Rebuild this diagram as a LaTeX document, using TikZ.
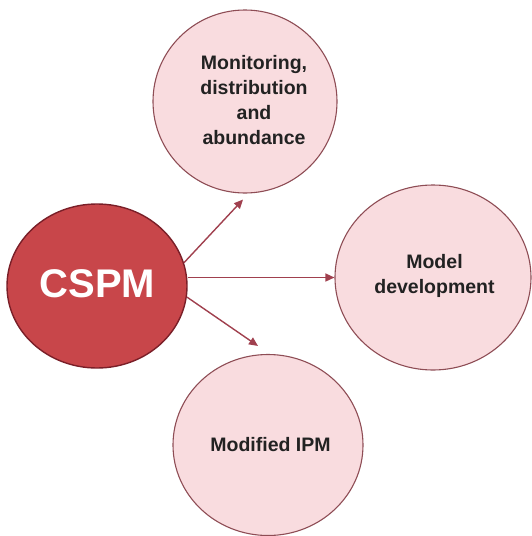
\documentclass[tikz,border=0pt]{standalone}
\usepackage{fontspec}
\setmainfont{Liberation Sans}
\usetikzlibrary{arrows.meta,shapes.geometric}
\definecolor{darkfill}{HTML}{C8464A}
\definecolor{darkline}{HTML}{7A1F28}
\definecolor{lightfill}{HTML}{F9DCDF}
\definecolor{lightline}{HTML}{8E4D55}
\definecolor{arrowcol}{HTML}{A0404E}
\definecolor{txt}{HTML}{222222}
\tikzset{
  mainbub/.style={ellipse, draw=darkline, line width=1.4pt, fill=darkfill, inner sep=0pt},
  maintext/.style={text=white, inner sep=0pt, font=\fontsize{40}{44}\selectfont\bfseries},
  subbub/.style={ellipse, draw=lightline, line width=1.1pt, fill=lightfill, inner sep=0pt},
  subtext/.style={text=txt, inner sep=0pt, align=center, font=\fontsize{19.5}{25}\selectfont\bfseries},
  arr/.style={draw=arrowcol, line width=1.4pt, -{Triangle[length=9pt,width=8pt]}, color=arrowcol}
}
\begin{document}
\begin{tikzpicture}[x=1pt,y=-1pt]
\useasboundingbox (0,0) rectangle (532,536);
\node[mainbub, minimum width=180pt, minimum height=164pt] (cspm) at (97,286) {};
\node[maintext] (cspmt) at (97.5,284) {CSPM};
\node[subbub, minimum width=184pt, minimum height=183pt] (mon) at (245,101.5) {};
\node[subtext] (mont) at (254,100) {Monitoring,\\distribution\\and\\abundance};
\node[subbub, minimum width=196pt, minimum height=185pt] (model) at (433,277.5) {};
\node[subtext] (modelt) at (434.5,276) {Model\\development};
\node[subbub, minimum width=190pt, minimum height=181pt] (ipm) at (268,445) {};
\node[subtext] (ipmt) at (270.5,445) {Modified IPM};
\draw[arr] (cspm.15) -- ([shift={(-2,6)}]mon.south);
\draw[arr] (cspm.east |- model.west) -- (model.west);
\draw[arr] (cspm.-7) -- ([shift={(-10,-8)}]ipm.north);
\end{tikzpicture}
\end{document}
